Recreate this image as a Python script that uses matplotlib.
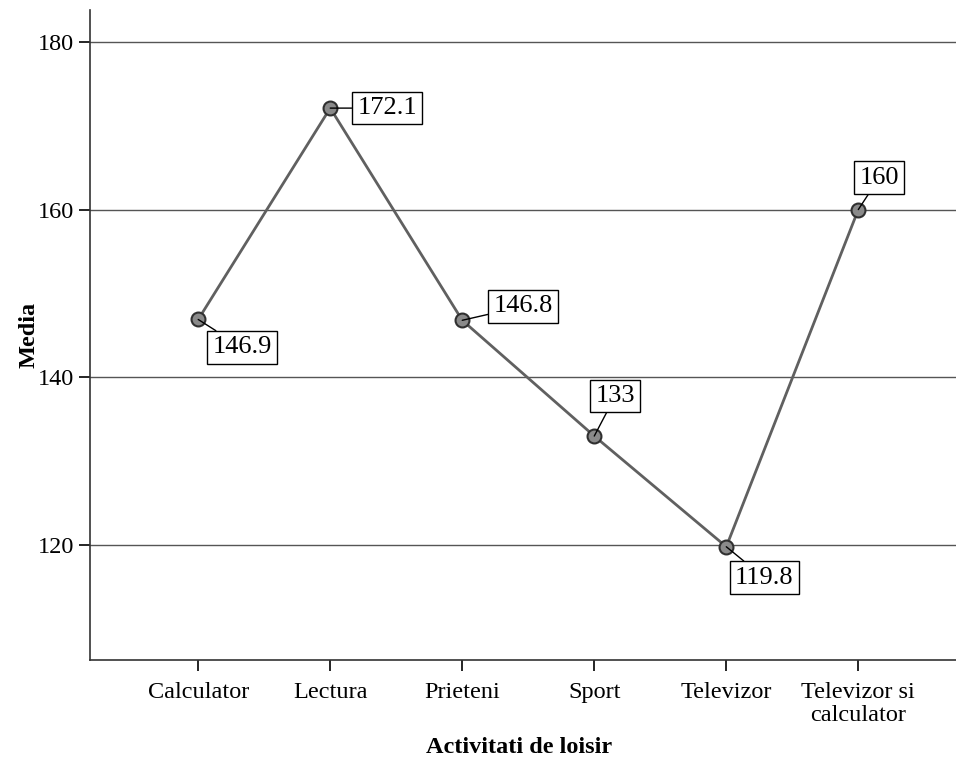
import matplotlib.pyplot as plt
import numpy as np

plt.rcParams['font.family'] = ['Liberation Serif', 'DejaVu Serif']

# Data
categories = ['Calculator', 'Lectura', 'Prieteni', 'Sport', 'Televizor',
              'Televizor si\ncalculator']
means = [146.9, 172.1, 146.8, 133.0, 119.8, 160.0]
labels = ['146.9', '172.1', '146.8', '133', '119.8', '160']
# label box offsets from the point, in pixels
offsets = [(44, -28), (57, 0), (61, 14), (21, 40), (38, -31), (21, 32)]

fig = plt.figure(figsize=(9.56, 7.62), dpi=100)
ax = fig.add_axes([0.0941, 0.1339, 0.9059, 0.853])

x = np.arange(len(categories))
ax.plot(x, means, color='#606060', lw=2, zorder=3)
ax.plot(x, means, 'o', ms=10, markerfacecolor='#8a8a8a',
        markeredgecolor='#303030', markeredgewidth=1.5, zorder=4)

for xi, yi, lab, off in zip(x, means, labels, offsets):
    ax.annotate(lab, (xi, yi), xytext=off, textcoords='offset pixels',
                ha='center', va='center', fontsize=19,
                bbox=dict(boxstyle='square,pad=0.2', fc='white', ec='black', lw=1),
                arrowprops=dict(arrowstyle='-', color='black', lw=1,
                                shrinkA=0, shrinkB=0),
                zorder=5)

ax.set_xlim(-0.82, 5.74)
ax.set_ylim(106.3, 183.8)
ax.set_yticks([120, 140, 160, 180])
ax.set_xticks(x)
ax.set_xticklabels(categories, fontsize=17.5, linespacing=1.1)
ax.tick_params(axis='y', labelsize=17.5, length=8, width=1.2, direction='out')
ax.tick_params(axis='x', length=8, width=1.2, direction='out', pad=8)
ax.grid(axis='y', color='#555555', lw=1)
ax.set_axisbelow(True)

for s in ['top', 'right']:
    ax.spines[s].set_visible(False)
for s in ['left', 'bottom']:
    ax.spines[s].set_color('#333333')
    ax.spines[s].set_linewidth(1.2)

ax.set_ylabel('Media', fontsize=17.5, fontweight='bold')
ax.yaxis.set_label_coords(-0.058, 0.5)
ax.set_xlabel('Activitati de loisir', fontsize=17.5, fontweight='bold')
ax.xaxis.set_label_coords(0.496, -0.118)

fig.savefig('out.png', dpi=100)
